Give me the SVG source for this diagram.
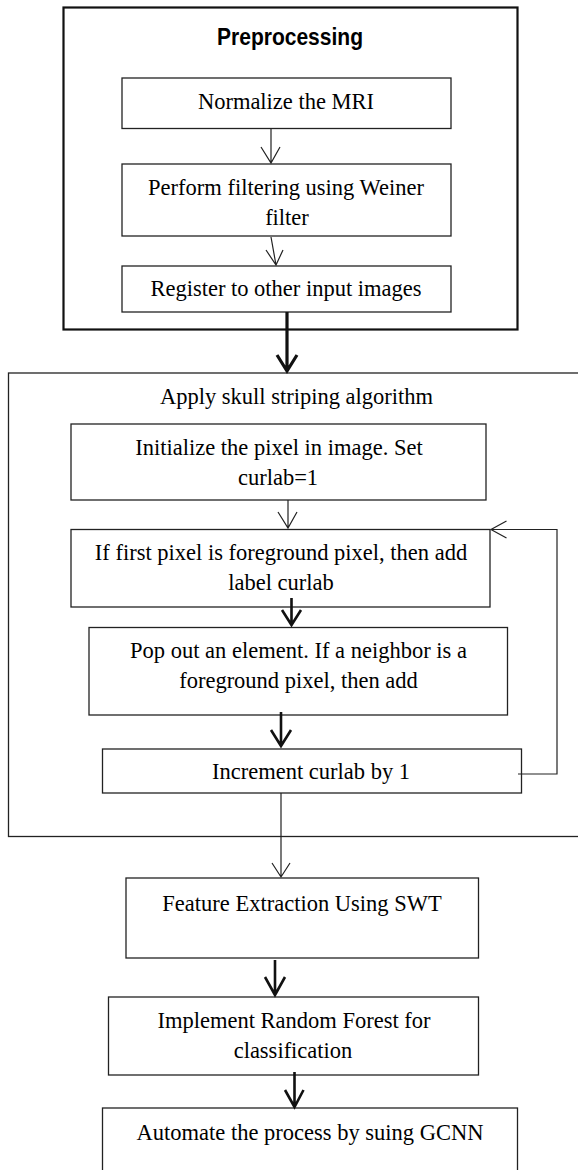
<svg xmlns="http://www.w3.org/2000/svg" width="578" height="1170" viewBox="0 0 578 1170">
<style>
.box{fill:#fff;stroke:#222;stroke-width:1.3}
.outer{fill:none;stroke:#111;stroke-width:2.2}
.frame{fill:none;stroke:#222;stroke-width:1.3}
.t{font-family:"Liberation Serif","Times New Roman",serif;font-size:22.5px;fill:#000;text-anchor:middle}
.h{font-family:"Liberation Sans",Arial,sans-serif;font-size:24px;font-weight:bold;fill:#000;text-anchor:middle}
.thin{fill:none;stroke:#222;stroke-width:1.2}
.thick{fill:none;stroke:#111;stroke-width:2.6}
.heavy{fill:none;stroke:#111;stroke-width:3.2}
</style>
<rect width="578" height="1170" fill="#fff"/>
<g id="preprocessing">
<rect class="outer" x="63.5" y="7.5" width="454" height="322"/>
<text class="h" x="290" y="44.5" textLength="146" lengthAdjust="spacingAndGlyphs">Preprocessing</text>
</g>
<g id="skull">
<rect class="frame" x="8.5" y="373" width="575" height="463.5"/>
<text class="t" x="296.5" y="404">Apply skull striping algorithm</text>
</g>
<g id="normalize">
<rect class="box" x="122" y="78" width="329" height="50.5"/>
<text class="t" x="286" y="109">Normalize the MRI</text>
</g>
<g id="filtering">
<rect class="box" x="122" y="164" width="329" height="72"/>
<text class="t" x="286" y="195">Perform filtering using Weiner</text>
<text class="t" x="287" y="225">filter</text>
</g>
<g id="register">
<rect class="box" x="122" y="266" width="329" height="46"/>
<text class="t" x="286" y="296">Register to other input images</text>
</g>
<g id="initialize">
<rect class="box" x="71" y="424" width="415" height="76"/>
<text class="t" x="279" y="455">Initialize the pixel in image. Set</text>
<text class="t" x="278" y="485">curlab=1</text>
</g>
<g id="firstpixel">
<rect class="box" x="71" y="529.5" width="419" height="77.5"/>
<text class="t" x="281" y="560">If first pixel is foreground pixel, then add</text>
<text class="t" x="281" y="590">label curlab</text>
</g>
<g id="popout">
<rect class="box" x="89" y="627.5" width="418.5" height="87.5"/>
<text class="t" x="298.5" y="658">Pop out an element. If a neighbor is a</text>
<text class="t" x="298.5" y="688">foreground pixel, then add</text>
</g>
<g id="increment">
<rect class="box" x="102.5" y="749" width="419" height="44"/>
<text class="t" x="311" y="779">Increment curlab by 1</text>
</g>
<g id="feature">
<rect class="box" x="126" y="878" width="352.5" height="80"/>
<text class="t" x="302" y="911">Feature Extraction Using SWT</text>
</g>
<g id="randomforest">
<rect class="box" x="108.5" y="997" width="370" height="78"/>
<text class="t" x="294" y="1028">Implement Random Forest for</text>
<text class="t" x="293" y="1058">classification</text>
</g>
<g id="automate">
<rect class="box" x="102.5" y="1108" width="415" height="70"/>
<text class="t" x="310" y="1140">Automate the process by suing GCNN</text>
</g>
<g id="connectors">
<path class="thin" d="M271 129 V163 M261 147 L271 163 L280 147"/>
<path class="thin" d="M271 237 L276 265 M266 250 L276 265 L283 250"/>
<path class="heavy" d="M287 312 V371 M277 355 L287 371 L297 355"/>
<path class="thin" d="M288 500 V528 M278 512 L288 528 L297 512"/>
<path class="thin" d="M518 774 H557 V529.5 H491 M506.5 521 L491 529.5 L506.5 538"/>
<path class="thick" d="M291.5 598 V625 M282 610 L291.5 625 L301 610"/>
<path class="thick" d="M281 712 V746 M271 730 L281 746 L291 730"/>
<path class="thin" d="M281 793 V877 M272 863 L281 877 L290 863"/>
<path class="thick" d="M275 960 V995 M265 977 L275 995 L285 977"/>
<path class="thick" d="M294.5 1072 V1107 M285 1090 L294.5 1107 L303.5 1090"/>
</g>
</svg>
